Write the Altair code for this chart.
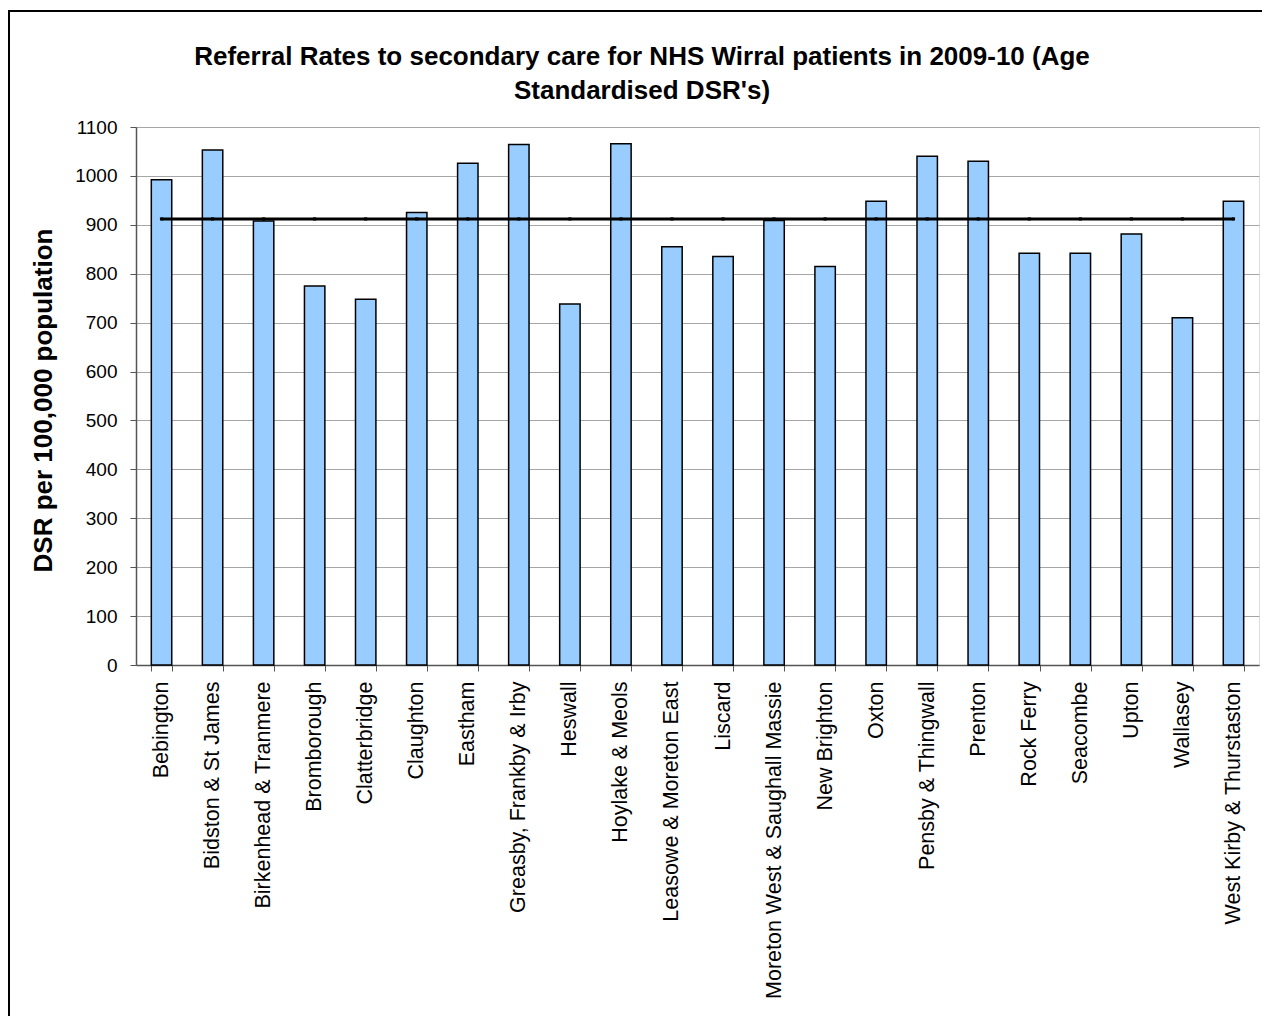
import altair as alt
import pandas as pd

# Wirral areas and their age standardised referral rates (DSR per 100,000)
areas = [
    "Bebington", "Bidston & St James", "Birkenhead & Tranmere", "Bromborough",
    "Clatterbridge", "Claughton", "Eastham", "Greasby, Frankby & Irby",
    "Heswall", "Hoylake & Meols", "Leasowe & Moreton East", "Liscard",
    "Moreton West & Saughall Massie", "New Brighton", "Oxton",
    "Pensby & Thingwall", "Prenton", "Rock Ferry", "Seacombe", "Upton",
    "Wallasey", "West Kirby & Thurstaston",
]
dsr = [992, 1053, 908, 775, 748, 925, 1026, 1064, 738, 1066, 855,
       835, 909, 815, 948, 1040, 1030, 842, 842, 881, 710, 948]
wirral_average = 912
y_ticks = [0, 100, 200, 300, 400, 500, 600, 700, 800, 900, 1000, 1100]
title_lines = [
    "Referral Rates to secondary care for NHS Wirral patients in 2009-10 (Age",
    "Standardised DSR's)",
]

df = pd.DataFrame({"area": areas, "dsr": dsr, "average": [wirral_average] * len(areas)})

FONT = "Liberation Sans"

x_enc = alt.X(
    "area:N",
    sort=areas,
    title=None,
    scale=alt.Scale(paddingInner=0.6, paddingOuter=0.3),
    axis=alt.Axis(
        labelAngle=-90,
        labelFontSize=21.5,
        labelFont=FONT,
        labelColor="black",
        labelPadding=10,
        tickBand="extent",
        tickSize=6,
        tickColor="#555555",
        domainColor="#555555",
        domainWidth=1.5,
        grid=False,
        labelLimit=600,
    ),
)

y_scale = alt.Scale(domain=[0, 1100], nice=False)

bars = alt.Chart(df).mark_bar(
    fill="#99CCFF", stroke="black", strokeWidth=1.5
).encode(
    x=x_enc,
    y=alt.Y(
        "dsr:Q",
        scale=y_scale,
        title="DSR per 100,000 population",
        axis=alt.Axis(
            values=y_ticks,
            format="d",
            labelFontSize=19,
            labelFont=FONT,
            labelColor="black",
            labelPadding=13,
            tickSize=6,
            tickColor="#555555",
            domainColor="#555555",
            domainWidth=1.5,
            gridColor="#a6a6a6",
            gridWidth=1,
            titleFont=FONT,
            titleFontSize=26,
            titleFontWeight="bold",
            titleColor="black",
            titleAngle=-90,
            titleAlign="center",
            titleBaseline="middle",
            titleX=-93,
            titleY=273,
        ),
    ),
)

avg_line = alt.Chart(df).mark_line(color="black", strokeWidth=3).encode(
    x=alt.X("area:N", sort=areas),
    y=alt.Y("average:Q", scale=y_scale),
)

avg_points = alt.Chart(df).mark_point(
    shape="square", filled=True, size=10, color="black", opacity=1
).encode(
    x=alt.X("area:N", sort=areas),
    y=alt.Y("average:Q", scale=y_scale),
)

# chart heading, centred over the plot above the top axis
heading = alt.Chart(pd.DataFrame({"h": [0]})).mark_text(
    text=title_lines,
    font=FONT,
    fontSize=26,
    fontWeight="bold",
    color="black",
    lineHeight=34,
    align="center",
    baseline="middle",
).encode(x=alt.value(506), y=alt.value(-70))

frame = alt.Chart(pd.DataFrame({"frame": [0]})).mark_rect(
    fillOpacity=0, stroke="black", strokeWidth=2
).encode(
    x=alt.value(-127), x2=alt.value(1400),
    y=alt.value(-116), y2=alt.value(1200),
)

chart = (
    alt.layer(bars, avg_line, avg_points, heading, frame)
    .properties(
        width=1123,
        height=538,
        autosize=alt.AutoSizeParams(type="none"),
        padding={"left": 136, "top": 127, "right": 3, "bottom": 351},
    )
    .configure_view(stroke="#8c8c8c", strokeWidth=2)
    .configure(background="white")
)

chart.save("out.html", embed_options={"renderer": "svg", "actions": False})
